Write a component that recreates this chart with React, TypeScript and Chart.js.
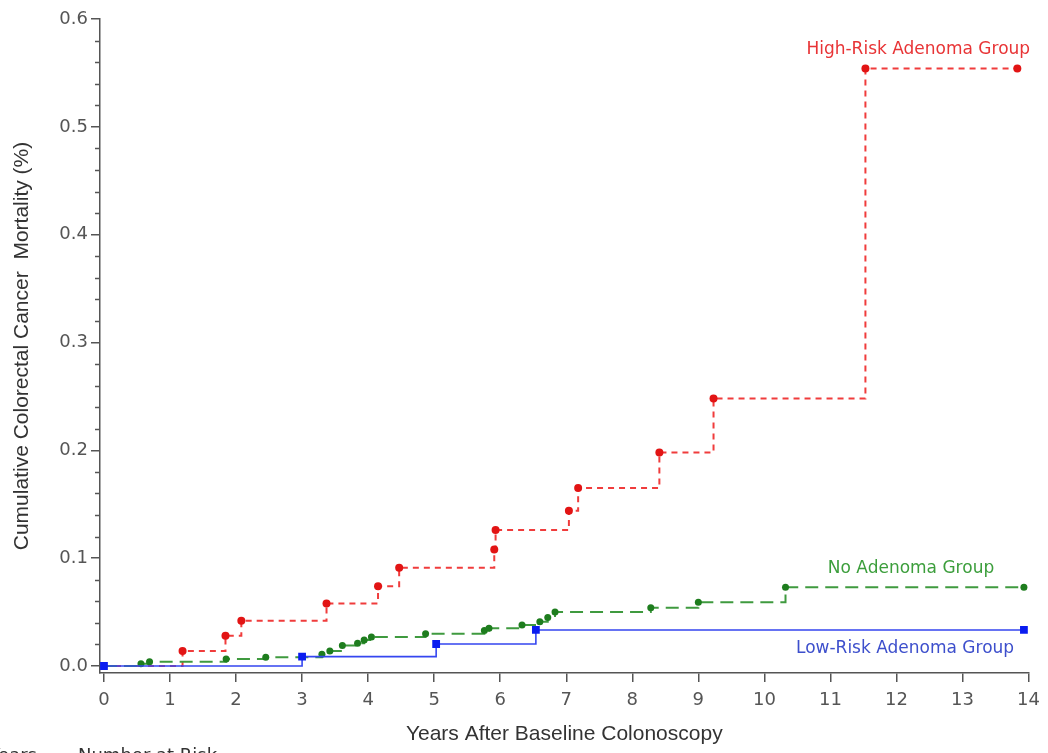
import React, { useEffect, useRef } from 'react';
import { Chart, registerables } from 'chart.js';

Chart.register(...registerables);

// ---- Data ----
const xTicks = [0, 1, 2, 3, 4, 5, 6, 7, 8, 9, 10, 11, 12, 13, 14];
const yTicks = [0, 0.1, 0.2, 0.3, 0.4, 0.5, 0.6];
const yMinorTicks = [
  0.02, 0.04, 0.06, 0.08, 0.12, 0.14, 0.16, 0.18, 0.22, 0.24, 0.26, 0.28,
  0.32, 0.34, 0.36, 0.38, 0.42, 0.44, 0.46, 0.48, 0.52, 0.54, 0.56, 0.58,
];

const highRiskYears = [0, 1.19, 1.84, 2.08, 3.37, 4.15, 4.47, 5.91, 5.93, 7.04, 7.18, 8.41, 9.23, 11.53, 13.83];
const highRiskMort = [0, 0.014, 0.028, 0.042, 0.058, 0.074, 0.091, 0.108, 0.126, 0.144, 0.165, 0.198, 0.248, 0.554, 0.554];

const noAdenomaYears = [0, 0.56, 0.69, 1.85, 2.45, 3.3, 3.42, 3.61, 3.84, 3.94, 4.05, 4.87, 5.76, 5.83, 6.33, 6.6, 6.72, 6.83, 8.28, 9.0, 10.32, 13.93];
const noAdenomaMort = [0, 0.002, 0.004, 0.0065, 0.008, 0.011, 0.014, 0.019, 0.021, 0.024, 0.027, 0.03, 0.033, 0.035, 0.038, 0.041, 0.045, 0.05, 0.054, 0.059, 0.073, 0.073];

const lowRiskYears = [0, 3.0, 5.03, 6.54, 13.93];
const lowRiskMort = [0, 0.0087, 0.0204, 0.0334, 0.0334];

const groupNames = ['High-Risk Adenoma Group', 'No Adenoma Group', 'Low-Risk Adenoma Group'];
// label anchors in data units (years, %)
const groupLabelYears = [12.33, 12.22, 12.13];
const groupLabelMort = [0.5715, 0.09, 0.0158];

// ---- Styles ----
const AXIS = '#555555';
const TICK_TEXT = '#555555';
const TITLE_TEXT = '#333333';
const RED_LINE = '#f03c3c';
const RED_PT = '#e21414';
const GREEN_LINE = '#3f9a3f';
const GREEN_PT = '#1e7d1e';
const BLUE_LINE = '#3446f0';
const BLUE_PT = '#0a1cf0';
const LABEL_COLORS = ['#e83436', '#3c9e3c', '#3d4fcc'];

const toPoints = (xs: number[], ys: number[]) => xs.map((x, i) => ({ x, y: ys[i] }));

const overlayPlugin = {
  id: 'overlay',
  afterDraw(chart: any) {
    const { ctx, chartArea } = chart;
    const xs = chart.scales.x;
    const ys = chart.scales.y;
    ctx.save();
    // minor ticks on the y axis
    ctx.strokeStyle = AXIS;
    ctx.lineWidth = 1.5;
    yMinorTicks.forEach((v) => {
      const py = Math.round(ys.getPixelForValue(v)) + 0.5;
      ctx.beginPath();
      ctx.moveTo(chartArea.left - 5, py);
      ctx.lineTo(chartArea.left, py);
      ctx.stroke();
    });
    // group labels
    ctx.font = '17px "DejaVu Sans"';
    ctx.textAlign = 'center';
    ctx.textBaseline = 'middle';
    groupNames.forEach((name, i) => {
      ctx.fillStyle = LABEL_COLORS[i];
      ctx.fillText(name, xs.getPixelForValue(groupLabelYears[i]), ys.getPixelForValue(groupLabelMort[i]));
    });
    // cut-off risk table header at the bottom edge
    ctx.fillStyle = TITLE_TEXT;
    ctx.font = '18px "DejaVu Sans"';
    ctx.textBaseline = 'alphabetic';
    ctx.textAlign = 'left';
    ctx.fillText('Number at Risk', 78, 761);
    ctx.textAlign = 'right';
    ctx.fillText('Years', 37, 761);
    ctx.restore();
  },
};

export default function App() {
  const canvasRef = useRef<HTMLCanvasElement | null>(null);

  useEffect(() => {
    if (!canvasRef.current) return;
    const tickFont = { family: 'DejaVu Sans', size: 18 };
    const titleFont = { family: 'Liberation Sans', size: 21 };
    const chart = new Chart(canvasRef.current, {
      type: 'line',
      data: {
        datasets: [
          {
            label: groupNames[2],
            data: toPoints(lowRiskYears, lowRiskMort),
            stepped: true,
            borderColor: BLUE_LINE,
            borderWidth: 1.6,
            pointStyle: 'rect',
            pointRadius: 5.5,
            pointBackgroundColor: BLUE_PT,
            pointBorderColor: BLUE_PT,
            pointBorderWidth: 0,
            fill: false,
            order: 1,
          },
          {
            label: groupNames[1],
            data: toPoints(noAdenomaYears, noAdenomaMort),
            stepped: true,
            borderColor: GREEN_LINE,
            borderWidth: 2,
            borderDash: [13, 7],
            pointStyle: 'circle',
            pointRadius: 3.5,
            pointBackgroundColor: GREEN_PT,
            pointBorderColor: GREEN_PT,
            pointBorderWidth: 0,
            fill: false,
            order: 2,
          },
          {
            label: groupNames[0],
            data: toPoints(highRiskYears, highRiskMort),
            stepped: true,
            borderColor: RED_LINE,
            borderWidth: 2,
            borderDash: [6, 5],
            pointStyle: 'circle',
            pointRadius: highRiskYears.map((_, i) => (i === 0 ? 0 : 4)),
            pointBackgroundColor: RED_PT,
            pointBorderColor: RED_PT,
            pointBorderWidth: 0,
            fill: false,
            order: 3,
          },
        ],
      },
      options: {
        animation: false,
        responsive: true,
        maintainAspectRatio: false,
        layout: { padding: { top: 19, right: 16, bottom: 0, left: 0 } },
        plugins: {
          legend: { display: false },
          tooltip: { enabled: false },
        },
        scales: {
          x: {
            type: 'linear',
            min: -0.06,
            max: 14,
            afterBuildTicks: (s: any) => {
              s.ticks = xTicks.map((v) => ({ value: v }));
            },
            afterFit: (s: any) => {
              s.height = 80;
            },
            grid: { drawOnChartArea: false, drawTicks: true, tickLength: 9, color: AXIS, lineWidth: 1.5 },
            border: { display: true, color: AXIS, width: 1.5 },
            ticks: {
              color: TICK_TEXT,
              font: tickFont,
              padding: 8,
              maxRotation: 0,
              autoSkip: false,
              callback: (v: any) => String(v),
            },
            title: {
              display: true,
              text: 'Years After Baseline Colonoscopy',
              color: TITLE_TEXT,
              font: titleFont,
              padding: { top: 0, bottom: 6 },
            },
          },
          y: {
            type: 'linear',
            min: -0.0065,
            max: 0.6,
            afterBuildTicks: (s: any) => {
              s.ticks = yTicks.map((v) => ({ value: v }));
            },
            afterFit: (s: any) => {
              s.width = 100;
            },
            grid: { drawOnChartArea: false, drawTicks: true, tickLength: 9, color: AXIS, lineWidth: 1.5 },
            border: { display: true, color: AXIS, width: 1.5 },
            ticks: {
              color: TICK_TEXT,
              font: tickFont,
              padding: 3,
              autoSkip: false,
              callback: (v: any) => Number(v).toFixed(1),
            },
            title: {
              display: true,
              text: 'Cumulative Colorectal Cancer  Mortality (%)',
              color: TITLE_TEXT,
              font: titleFont,
              padding: { top: 10, bottom: 0 },
            },
          },
        },
      },
      plugins: [overlayPlugin],
    } as any);
    return () => chart.destroy();
  }, []);

  return (
    <div style={{ position: 'absolute', left: 0, top: 0, width: 1048, height: 753, background: '#ffffff' }}>
      <canvas ref={canvasRef} />
    </div>
  );
}
